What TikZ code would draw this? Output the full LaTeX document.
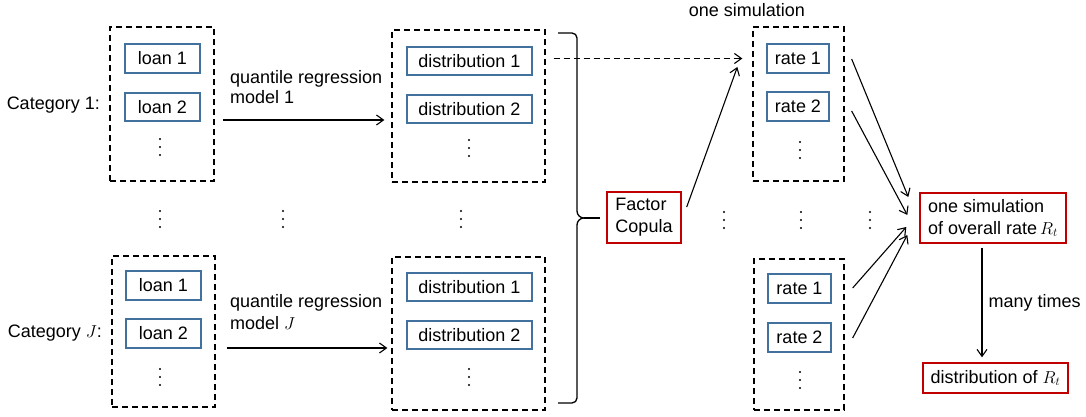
\documentclass[tikz,border=0pt]{standalone}
\usepackage{fontspec}
\setmainfont{Liberation Sans}
\usetikzlibrary{arrows.meta}
\definecolor{bbl}{HTML}{41719C}
\definecolor{rd}{HTML}{C00000}
\begin{document}
\begin{tikzpicture}[x=1pt,y=-1pt,
  txt/.style={font=\fontsize{18}{22}\selectfont, inner sep=0pt},
  bbox/.style={draw=bbl, line width=1.4pt, fill=white, txt, align=center},
  rbox/.style={draw=rd, line width=1.4pt, txt, align=left},
  grp/.style={draw, line width=1.3pt, dash pattern=on 6pt off 4pt, inner sep=0pt},
  arr/.style={-{Straight Barb[length=7pt,width=10pt]}, line width=1.1pt},
  darr/.style={arr, dash pattern=on 6pt off 4pt},
  vd/.pic={\fill (0,-8) circle (1.2pt); \fill (0,0) circle (1.2pt); \fill (0,8) circle (1.2pt);}
]
\useasboundingbox (0,0) rectangle (1086,417);

% group boxes
\node[grp, minimum width=104pt, minimum height=154pt] (g1) at (162,104) {};
\node[grp, minimum width=103pt, minimum height=151pt] (g2) at (163.5,331.5) {};
\node[grp, minimum width=153pt, minimum height=152pt] (m1) at (468.5,106) {};
\node[grp, minimum width=153pt, minimum height=153pt] (m2) at (468.5,333.5) {};
\node[grp, minimum width=91pt, minimum height=154pt] (rg1) at (798.5,104) {};
\node[grp, minimum width=90pt, minimum height=151pt] (rg2) at (799,334.5) {};

% loans
\node[bbox, minimum width=75pt, minimum height=29pt] (l1a) at (162.5,58.5) {loan 1};
\node[bbox, minimum width=75pt, minimum height=28pt] (l2a) at (162.5,107) {loan 2};
\node[bbox, minimum width=75pt, minimum height=29pt] (l1b) at (163.5,285.5) {loan 1};
\node[bbox, minimum width=75pt, minimum height=29pt] (l2b) at (163.5,333.5) {loan 2};

% distributions
\node[bbox, minimum width=125pt, minimum height=28pt] (d1a) at (469.5,61) {distribution 1};
\node[bbox, minimum width=125pt, minimum height=28pt] (d2a) at (469.5,109) {distribution 2};
\node[bbox, minimum width=125pt, minimum height=28pt] (d1b) at (469.5,287) {distribution 1};
\node[bbox, minimum width=125pt, minimum height=28pt] (d2b) at (469.5,335) {distribution 2};

% rates
\node[bbox, minimum width=62pt, minimum height=29pt] (r1a) at (798,58.5) {rate 1};
\node[bbox, minimum width=62pt, minimum height=29pt] (r2a) at (798,106.5) {rate 2};
\node[bbox, minimum width=63pt, minimum height=29pt] (r1b) at (799.5,288.5) {rate 1};
\node[bbox, minimum width=63pt, minimum height=29pt] (r2b) at (799.5,337.5) {rate 2};

% dots
\pic at (160,147) {vd};
\pic at (160,377) {vd};
\pic at (469,148) {vd};
\pic at (469,377) {vd};
\pic at (800,150) {vd};
\pic at (800,380) {vd};
\pic at (160,219) {vd};
\pic at (283,219) {vd};
\pic at (461,219) {vd};
\pic at (724,220) {vd};
\pic at (801,220) {vd};
\pic at (870,220) {vd};

% labels
\node[txt, anchor=east] (c1) at (100,105) {Category 1:};
\node[txt, anchor=east] (cJ) at (102,333) {Category $J$:};
\node[txt, anchor=north west, align=left, font=\fontsize{18}{20}\selectfont] (q1) at (230,70) {quantile regression\\model 1};
\node[txt, anchor=north west, align=left, font=\fontsize{18}{22}\selectfont] (qJ) at (230,294) {quantile regression\\model $J$};
\node[txt] (os1) at (747,10) {one simulation};

% red boxes
\node[rbox, minimum width=74pt, minimum height=51pt] (fc) at (644,217.5) {Factor\\Copula};
\node[rbox, minimum width=146pt, minimum height=50pt] (os) at (993,218) {one simulation\\of overall rate\,$R_t$};
\node[rbox, minimum width=145pt, minimum height=30pt] (dr) at (995.5,378) {distribution of $R_t$};

% brace
\draw[line width=1.3pt] (558,33) -- (572,33) to[out=0,in=90] (577,38) -- (577,211)
  to[out=-90,in=180] (584,218) to[out=180,in=90] (577,225) -- (577,398)
  to[out=-90,in=0] (572,403) -- (558,403);
\draw[line width=1.3pt] (584,218) -- (600,218);

% arrows
\draw[arr] ([shift={(8,16)}]g1.east) -- ([shift={(-7,14)}]m1.west);
\draw[arr] ([shift={(11,16.5)}]g2.east) -- ([shift={(-4,14.5)}]m2.west);
\draw[darr] ([xshift=8pt]m1.east |- r1a) -- ([xshift=-10pt]rg1.west |- r1a);
\draw[arr] ([shift={(5,-10.5)}]fc.east) -- ([shift={(-15,-37)}]rg1.west);
\draw[arr] ([shift={(7,-45)}]rg1.east) -- ([shift={(-11,-21)}]os.west);
\draw[arr] ([shift={(7,7)}]rg1.east) -- ([shift={(-12,-3)}]os.west);
\draw[arr] ([shift={(8,-46.5)}]rg2.east) -- ([shift={(-13,9)}]os.west);
\draw[arr] ([shift={(8,3.5)}]rg2.east) -- ([shift={(-12,17)}]os.west);
\draw[arr] ([shift={(-11,4)}]os.south) -- ([shift={(-13.5,-5)}]dr.north) node[midway, right=6pt, txt] (mt) {many times};
\end{tikzpicture}
\end{document}
